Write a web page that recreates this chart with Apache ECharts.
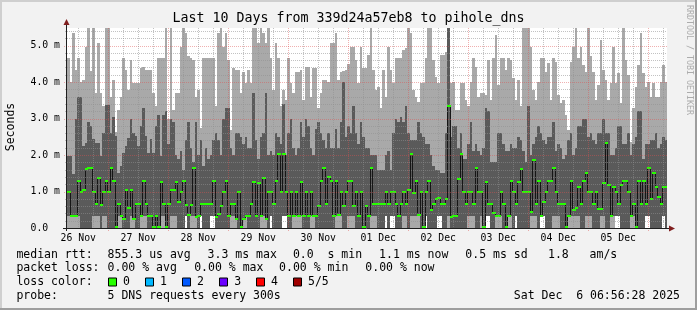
<!DOCTYPE html>
<html><head><meta charset="utf-8">
<script src="https://cdn.jsdelivr.net/npm/echarts@6/dist/echarts.min.js"></script>
<style>html,body{margin:0;padding:0;background:#f2f2f2;}#c{width:697px;height:310px;}</style>
</head><body><div id="c"></div>
<script>
// ---------------- data ----------------
const titleText = 'Last 10 Days from 339d24a57eb8 to pihole_dns';
const yAxisName = 'Seconds';
const watermark = 'RRDTOOL / TOBI OETIKER';
const dayLabels = ['26 Nov','27 Nov','28 Nov','29 Nov','30 Nov','01 Dec','02 Dec','03 Dec','04 Dec','05 Dec'];
const yTickLabels = ['0.0  ','1.0 m','2.0 m','3.0 m','4.0 m','5.0 m'];
const startHour = 7.5;   // first hourly column, hours after 26 Nov 00:00
const spanHours = 240;   // 10 days
const yMaxMs = 5.48;

// highest ping of each hourly column (ms)
const pingMax = [4.65,4.0,5.33,4.33,4.65,4.0,4.05,4.97,5.47,4.3,
 5.47,3.7,5.06,3.7,3.35,5.47,5.47,3.6,4.05,2.63,
 3.23,3.6,4.65,4.33,3.78,4.6,3.96,3.96,3.96,4.38,
 4.42,4.33,4.33,4.33,3.69,3.33,4.65,4.65,4.65,5.47,
 3.0,5.47,3.23,3.69,3.69,4.97,5.47,5.33,4.7,4.65,
 4.6,3.6,3.78,2.73,4.65,4.65,4.65,4.65,4.65,3.33,
 5.33,5.47,4.97,5.33,4.6,2.68,4.38,4.33,4.33,3.69,
 4.28,3.96,4.33,3.96,5.47,5.47,5.06,5.47,5.33,5.06,
 5.47,4.65,3.78,5.06,4.65,3.33,3.78,3.51,4.65,3.96,
 3.69,4.28,4.28,4.33,3.51,4.42,4.42,3.6,4.38,4.38,
 3.28,3.69,4.05,4.05,4.01,5.06,5.06,5.33,4.05,4.28,
 4.3,4.33,4.5,4.97,4.97,4.6,3.96,4.97,4.38,4.38,
 4.74,5.47,4.33,3.78,3.87,3.28,4.33,3.6,4.97,4.33,
 3.96,4.65,4.65,4.65,4.88,4.92,5.47,5.33,3.78,3.6,
 3.46,3.96,3.96,4.65,5.47,5.47,4.6,4.15,3.96,4.74,
 4.74,4.83,5.47,3.96,4.01,3.23,3.23,3.96,3.96,3.51,
 3.33,4.01,4.65,4.42,3.6,3.69,3.69,3.64,4.6,3.51,
 4.65,5.29,3.92,4.65,4.65,4.33,4.65,4.6,4.1,3.51,
 4.05,3.33,5.47,5.47,5.47,4.97,3.78,3.51,4.01,4.65,
 4.65,4.28,4.51,3.51,4.65,4.56,3.64,3.42,3.51,3.1,
 2.68,4.56,4.97,5.47,4.65,4.97,4.47,4.28,5.47,4.7,
 4.28,3.51,3.92,5.15,4.33,4.05,3.51,3.96,4.97,3.96,
 4.24,3.42,5.47,4.6,4.19,2.37,3.28,3.87,4.47,5.33,
 4.24,3.87,4.01,3.6,3.96,3.6,3.6,4.01,4.47,4.0];

// upper edge of the inner (dark) smoke band (ms)
const pingHigh = [1.97,1.97,1.47,3.0,3.6,3.6,2.25,2.34,2.9,2.8,
 2.43,2.34,2.34,1.97,2.6,3.37,3.37,2.6,3.05,2.52,
 1.52,1.7,2.06,2.25,2.47,3.0,2.6,2.52,2.25,2.8,
 3.28,2.52,2.06,2.43,2.06,2.8,3.1,1.97,3.1,3.2,
 2.3,3.0,2.9,2.0,1.9,2.1,1.6,2.4,2.9,2.2,
 1.8,2.9,2.0,2.4,1.7,2.2,1.9,2.0,2.4,2.6,
 2.4,2.0,3.0,3.3,3.3,2.2,2.0,2.6,2.6,2.5,
 2.3,2.5,2.2,2.2,3.69,2.4,1.9,2.5,2.6,3.69,
 2.0,2.1,2.0,2.6,2.5,2.3,3.4,2.0,2.6,3.0,
 2.2,2.0,2.2,2.9,2.5,3.0,2.8,2.2,2.0,2.7,
 2.9,2.6,2.4,2.2,2.6,2.2,2.2,2.7,2.2,2.9,
 4.0,2.5,2.8,2.6,3.33,2.6,2.3,2.9,2.5,2.2,
 2.2,2.0,2.0,2.0,1.6,1.6,1.6,2.0,2.1,1.6,
 2.6,3.0,2.9,3.05,2.9,3.33,2.6,2.4,2.4,2.4,
 2.9,2.6,2.5,2.3,2.3,2.0,1.7,1.6,1.6,1.5,
 1.5,2.6,5.47,2.5,2.8,2.8,2.2,2.6,1.9,1.9,
 2.3,2.9,2.1,2.3,2.1,2.0,2.2,3.28,3.2,1.8,
 1.8,1.8,2.6,2.6,2.3,2.1,2.1,2.3,2.2,2.2,
 2.5,2.4,2.1,1.8,3.33,2.0,2.3,2.5,2.8,2.6,
 2.4,2.3,2.5,2.5,2.9,2.1,2.3,2.2,1.9,2.0,
 2.4,2.6,2.0,2.2,2.8,2.8,3.0,3.0,2.5,2.6,
 2.4,2.3,2.6,2.6,3.0,2.6,2.6,2.0,2.0,2.2,
 2.8,2.8,2.3,2.3,2.6,2.0,2.3,2.5,3.2,3.2,
 1.9,2.3,2.3,2.4,2.4,2.6,2.2,2.3,2.5,2.4];

// lower edge of the inner (dark) smoke band (ms)
const pingLow = [0.33,0.33,0.33,0.33,0.33,0,0,0,0,0,
 0.33,0.33,0.33,0,0.33,0.33,0,0,0,0,
 0.33,0.33,0,0,0,0.33,0.26,0,0,0.33,
 0.33,0.33,0,0,0,0,0,0.33,0.33,0,
 0,0.33,0.33,0.33,0,0,0,0.33,0,0.33,
 0.33,0.31,0,0.33,0,0,0,0.33,0.33,0,
 0,0,0,0,0,0.33,0.33,0.26,0,0,
 0.26,0.33,0,0,0,0,0,0.33,0.33,0.26,
 0,0.33,0,0,0,0,0.33,0.33,0,0,
 0.33,0.33,0.33,0.33,0,0,0,0.33,0.33,0,
 0,0,0,0,0,0,0,0.33,0.33,0.33,
 0,0,0.33,0.33,0.33,0,0,0,0,0,
 0,0.33,0.33,0.33,0,0,0,0.33,0,0.33,
 0.33,0,0,0,0.33,0.33,0,0.33,0.33,0.33,
 0.33,0,0,0.33,0,0,0,0,0.33,0.33,
 0,0,0.33,0,0,0,0,0,0,0,
 0.33,0.33,0.33,0,0,0.33,0,0.33,0.33,0,
 0,0.33,0.33,0.33,0,0,0.33,0.33,0,0.33,
 0,0,0,0,0,0.33,0.33,0.33,0,0.33,
 0.33,0,0,0,0.33,0.33,0.33,0,0,0,
 0.33,0.33,0.33,0.33,0.33,0,0,0.33,0.33,0.33,
 0,0,0,0.33,0.33,0,0,0.33,0.33,0.33,
 0.33,0,0,0,0,0.33,0.33,0,0,0,
 0,0.33,0.33,0,0,0,0,0,0.33,0];

// lowest ping of each column (ms) - white gap below it
const pingMin = [0,0,0,0,0,0,0,0,0,0,
 0,0,0,0,0,0,0,0,0,0,
 0,0,0,0,0,0,0,0,0,0,
 0,0,0,0,0,0,0,0,0,0,
 0,0,0,0,0,0,0,0.33,0,0,
 0,0,0,0.33,0,0,0,0.33,0.33,0,
 0,0,0,0,0,0,0,0,0,0,
 0,0,0,0,0,0,0,0,0,0,
 0,0.33,0,0,0,0,0.33,0.33,0,0,
 0,0,0,0,0,0,0,0,0,0,
 0,0,0,0,0,0,0,0,0,0,
 0,0,0,0,0,0,0,0,0,0,
 0,0,0,0,0,0,0,0.33,0,0.33,
 0.33,0,0,0,0,0,0,0,0,0,
 0,0,0,0.33,0,0,0,0,0.33,0.33,
 0,0,0,0,0,0,0,0,0,0,
 0,0,0,0,0,0,0,0.33,0.33,0,
 0,0,0,0,0,0,0,0,0,0.33,
 0,0,0,0,0,0,0,0,0,0.33,
 0.33,0,0,0,0,0,0,0,0,0,
 0,0,0,0,0,0,0,0,0,0,
 0,0,0,0,0,0,0,0,0,0.33,
 0.33,0,0,0,0,0,0,0,0,0,
 0,0.33,0.33,0,0,0,0,0,0.33,0];

// median rtt of each column (ms)
const medianRtt = [1.0,0.33,0.33,0.33,1.29,1.0,1.04,1.62,1.65,1.65,
 1.0,0.66,1.36,0.63,1.0,1.3,1.0,1.65,1.3,0.02,
 0.66,0.33,0.26,1.04,0.54,1.04,0.26,0.66,0.66,0.33,
 1.3,0.66,0.33,0.33,0.04,0.33,0.02,1.27,0.66,0.04,
 0.66,1.04,1.04,1.27,0.7,1.0,1.3,0.63,0.36,0.63,
 1.65,0.31,0.33,0.66,0.66,0.66,0.66,0.66,1.3,0.31,
 0.37,0.6,1.0,1.3,0.33,0.66,0.66,0.26,1.0,0.02,
 0.26,0.33,0.33,0.66,1.27,0.33,1.22,0.33,1.36,0.26,
 1.0,1.0,0.66,1.3,2.03,1.0,2.03,1.0,0.33,1.0,
 0.33,1.0,0.33,1.27,0.33,1.0,0.33,1.0,0.33,0.33,
 0.6,1.3,1.65,0.66,1.39,1.3,0.33,1.3,0.36,1.0,
 0.6,1.0,1.3,1.3,0.6,1.0,0.33,1.0,0.04,0.6,
 0.33,1.65,0.66,0.66,0.66,0.66,0.66,1.0,0.66,1.0,
 1.0,0.66,0.33,0.66,1.0,0.66,1.04,2.02,0.97,1.3,
 0.36,1.0,0.04,1.0,1.3,0.49,0.66,0.8,0.81,0.66,
 0.66,0.8,3.33,0.31,0.33,0.33,1.33,2.02,1.0,0.66,
 1.0,1.0,0.66,1.65,1.0,1.0,0.04,1.27,0.66,0.66,
 0.4,0.33,0.33,1.0,0.66,0.04,0.33,1.29,1.0,0.66,
 1.27,1.62,1.0,1.0,1.0,0.45,1.86,0.66,1.3,0.33,
 0.72,1.0,1.3,1.3,1.65,1.0,0.66,0.66,0.66,0.04,
 0.33,1.3,0.49,0.54,1.13,0.66,1.3,1.52,1.0,1.0,
 0.66,1.0,0.52,0.52,1.22,2.34,1.18,0.33,1.13,1.0,
 0.66,1.18,1.3,1.3,1.0,0.33,0.66,0.04,1.3,0.66,
 1.3,0.66,1.65,0.8,1.5,1.13,0.86,0.66,1.13,1.13];

const statsRow1 = ['median rtt:','855.3 us avg','3.3 ms max','0.0  s min','1.1 ms now','0.5 ms sd','1.8   am/s'];
const statsRow2 = ['packet loss:','0.00 % avg','0.00 % max','0.00 % min','0.00 % now'];
const lossLabel = 'loss color:';
const lossNames = ['0','1','2','3','4','5/5'];
const lossColors = ['#26ff00','#00b8ff','#0059ff','#6a00ff','#ff0000','#a00000'];
const probeRow = ['probe:','5 DNS requests every 300s'];
const stampText = 'Sat Dec  6 06:56:28 2025';

// ---------------- styling ----------------
const MONO = '"DejaVu Sans Mono", "Liberation Mono", monospace';
const LIGHT = '#a9a9a9';
const DARK = '#5a5a5a';
const GRIDC = 'rgba(143,143,143,0.55)';
const MGRIDC = 'rgba(222,79,79,0.45)';
const AXISC = '#1f1f1f';
const ARROWC = '#801f1f';
const xMin = startHour, xMax = startHour + spanHours;

const smokeData = pingMax.map((v, k) => [k, pingMin[k], pingLow[k], pingHigh[k], v]);
const medData = medianRtt.map((v, k) => [k, v, k + 1 < medianRtt.length ? medianRtt[k + 1] : v]);

function colX(api, k) {
  const t0 = startHour + k;
  return [Math.round(api.coord([t0, 0])[0]), Math.round(api.coord([t0 + 1, 0])[0])];
}

function renderSmoke(params, api) {
  const k = api.value(0);
  const [x0, x1] = colX(api, k);
  const Y = v => Math.round(api.coord([startHour + k, v])[1]);
  const kids = [];
  const band = (a, b, color) => {
    const ya = Y(a), yb = Y(b);
    if (ya - yb > 0) kids.push({type: 'rect', shape: {x: x0, y: yb, width: x1 - x0, height: ya - yb}, style: {fill: color}});
  };
  band(api.value(1), api.value(2), LIGHT);
  band(api.value(2), api.value(3), DARK);
  band(api.value(3), api.value(4), LIGHT);
  return {type: 'group', children: kids};
}

function renderMedian(params, api) {
  const k = api.value(0);
  const [x0, x1] = colX(api, k);
  const y = Math.round(api.coord([startHour + k, api.value(1)])[1]);
  const yn = Math.round(api.coord([startHour + k, api.value(2)])[1]);
  const kids = [];
  if (k < medianRtt.length - 1 && yn !== y) {
    kids.push({type: 'line', shape: {x1: x1 + 0.5, y1: y, x2: x1 + 0.5, y2: yn}, style: {stroke: '#161616', lineWidth: 1}});
  }
  kids.push({type: 'line', shape: {x1: x0, y1: y, x2: x1 + 1, y2: y}, style: {stroke: lossColors[0], lineWidth: 2}});
  return {type: 'group', children: kids};
}

function renderGrid(params, api) {
  const kids = [];
  const left = Math.round(api.coord([xMin, 0])[0]);
  const right = Math.round(api.coord([xMax, 0])[0]);
  const bottom = Math.round(api.coord([xMin, 0])[1]);
  const top = Math.round(api.coord([xMin, yMaxMs])[1]);
  for (let i = 1; i * 0.2 < yMaxMs; i++) {
    const y = Math.round(api.coord([xMin, i * 0.2])[1]) + 0.5;
    const major = i % 5 === 0;
    kids.push({type: 'line', shape: {x1: left - (major ? 3 : 2), y1: y, x2: right, y2: y},
      style: {stroke: major ? MGRIDC : GRIDC, lineWidth: 1, lineDash: [1, 1]}});
  }
  for (let h = Math.ceil(xMin / 6) * 6; h < xMax; h += 6) {
    const x = Math.round(api.coord([h, 0])[0]) + 0.5;
    const major = h % 24 === 0;
    kids.push({type: 'line', shape: {x1: x, y1: top, x2: x, y2: bottom + (major ? 3 : 2)},
      style: {stroke: major ? MGRIDC : GRIDC, lineWidth: 1, lineDash: [1, 1]}});
  }
  // axes with arrows
  kids.push({type: 'line', shape: {x1: left - 4, y1: bottom + 0.5, x2: right + 3, y2: bottom + 0.5}, style: {stroke: AXISC, lineWidth: 1}});
  kids.push({type: 'line', shape: {x1: left - 0.5, y1: bottom + 3, x2: left - 0.5, y2: top - 4}, style: {stroke: AXISC, lineWidth: 1}});
  kids.push({type: 'polygon', shape: {points: [[right + 2, bottom - 2.5], [right + 8, bottom + 0.5], [right + 2, bottom + 3.5]]}, style: {fill: ARROWC}});
  kids.push({type: 'polygon', shape: {points: [[left - 3.5, top - 3], [left - 0.5, top - 9], [left + 2.5, top - 3]]}, style: {fill: ARROWC}});
  return {type: 'group', children: kids};
}

function renderDayLabel(params, api) {
  const i = api.value(0);
  const p = api.coord([12 + 24 * i, 0]);
  return {type: 'text', x: p[0], y: p[1] + 10.3,
    style: {text: dayLabels[i], fill: '#000', font: '9.8px ' + MONO, align: 'center', verticalAlign: 'middle',
            textAlign: 'center', textVerticalAlign: 'middle'}};
}

function txt(x, y, text, opts) {
  opts = opts || {};
  return Object.assign({type: 'text', x: x, y: y, silent: true,
    style: {text: text, fill: opts.fill || '#000', font: (opts.size || 11.5) + 'px ' + MONO,
      align: opts.align || 'left', verticalAlign: 'middle',
      textAlign: opts.align || 'left', textVerticalAlign: 'middle'}}, opts.extra || {});
}

const legendX1 = [16.4, 107.6, 207.6, 292.9, 379.1, 465.3, 548];
const legendX2 = [16.4, 107.6, 194.2, 279.1, 365.3];
const boxX = [108.5, 145.5, 182.5, 219.5, 256.5, 293.5];
const boxLabelX = [123.1, 160, 196.9, 234.2, 271.1, 308];
const rowY = [255, 268.5, 282.5, 296.5];

const graphics = [];
// 3D frame
graphics.push({type: 'rect', shape: {x: 0, y: 0, width: 697, height: 2}, style: {fill: '#cfcfcf'}, silent: true});
graphics.push({type: 'rect', shape: {x: 0, y: 0, width: 2, height: 310}, style: {fill: '#cfcfcf'}, silent: true});
graphics.push({type: 'rect', shape: {x: 0, y: 308, width: 697, height: 2}, style: {fill: '#9e9e9e'}, silent: true});
graphics.push({type: 'rect', shape: {x: 695, y: 0, width: 2, height: 310}, style: {fill: '#9e9e9e'}, silent: true});
graphics.push(txt(348.5, 18.7, titleText, {size: 13.3, align: 'center'}));
graphics.push(txt(11, 127, yAxisName, {size: 11.5, align: 'center', extra: {rotation: Math.PI / 2}}));
graphics.push(txt(689, 60, watermark, {size: 8.3, align: 'center', fill: '#acacac', extra: {rotation: -Math.PI / 2}}));
statsRow1.forEach((s, i) => graphics.push(txt(legendX1[i], rowY[0], s)));
statsRow2.forEach((s, i) => graphics.push(txt(legendX2[i], rowY[1], s)));
graphics.push(txt(16.4, rowY[2], lossLabel));
lossNames.forEach((s, i) => {
  graphics.push({type: 'rect', shape: {x: boxX[i], y: rowY[2] - 4.5, width: 8, height: 8}, style: {fill: lossColors[i], stroke: '#000', lineWidth: 1}, silent: true});
  graphics.push(txt(boxLabelX[i], rowY[2], s));
});
graphics.push(txt(16.4, rowY[3], probeRow[0]));
graphics.push(txt(107.6, rowY[3], probeRow[1]));
graphics.push(txt(680, rowY[3], stampText, {align: 'right'}));

const chart = echarts.init(document.getElementById('c'), null, {renderer: 'canvas'});
chart.setOption({
  backgroundColor: '#f2f2f2',
  animation: false,
  grid: {left: 67, top: 28, width: 600, height: 200, show: true, backgroundColor: '#ffffff', borderWidth: 0},
  xAxis: {type: 'value', min: xMin, max: xMax, show: false},
  yAxis: {type: 'value', min: 0, max: yMaxMs, interval: 1,
    axisLine: {show: false}, axisTick: {show: false}, splitLine: {show: false},
    axisLabel: {show: true, showMaxLabel: false, margin: 7, color: '#000', fontFamily: MONO, fontSize: 9.8,
      formatter: v => (Number.isInteger(v) && yTickLabels[v] !== undefined) ? yTickLabels[v] : ''}},
  graphic: graphics,
  series: [
    {type: 'custom', name: 'smoke', renderItem: renderSmoke, data: smokeData, clip: true, z: 2, silent: true},
    {type: 'custom', name: 'median', renderItem: renderMedian, data: medData, clip: true, z: 3, silent: true},
    {type: 'custom', name: 'grid', renderItem: renderGrid, data: [[0]], clip: false, z: 4, silent: true},
    {type: 'custom', name: 'days', renderItem: renderDayLabel, data: dayLabels.map((d, i) => [i]), clip: false, z: 5, silent: true}
  ]
});
</script>
</body></html>
